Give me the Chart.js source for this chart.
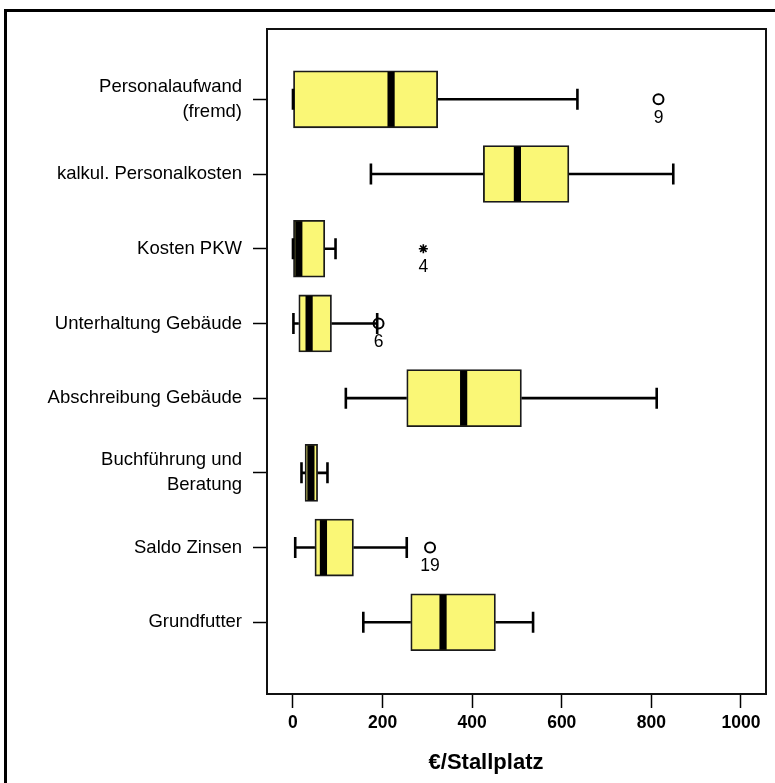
<!DOCTYPE html>
<html><head><meta charset="utf-8">
<script src="https://cdn.jsdelivr.net/npm/chart.js@4/dist/chart.umd.min.js"></script>
<style>
html,body{margin:0;padding:0;background:#fff;overflow:hidden;}
#wrap{position:relative;width:775px;height:783px;overflow:hidden;}
#frame{position:absolute;left:4px;top:9px;width:900px;height:900px;border:3px solid #000;box-sizing:border-box;pointer-events:none;}
canvas{position:absolute;left:0;top:0;}
</style></head><body>
<div id="wrap"><canvas id="c" width="775" height="783"></canvas><div id="frame"></div></div>
<script>
// ---- data ----
const categories = [["Personalaufwand","(fremd)"],"kalkul. Personalkosten","Kosten PKW","Unterhaltung Gebäude","Abschreibung Gebäude",["Buchführung und","Beratung"],"Saldo Zinsen","Grundfutter"];
const minimums = [0, 174, 0, 1, 118, 19, 5, 157];
const lowerQuartiles = [0, 425, 0, 13, 254, 27, 49, 263];
const medians = [219, 501, 13, 36, 381, 40, 68, 335];
const upperQuartiles = [323, 616, 71, 86, 510, 55, 135, 452];
const maximums = [635, 849, 95, 188, 812, 77, 254, 536];
const outlierCategory = [0, 2, 3, 6];
const outlierValues = [816, 291, 191, 306];
const outlierLabels = ["9", "4", "6", "19"];
const outlierExtreme = [false, true, false, false];
const xTickValues = [0, 200, 400, 600, 800, 1000];
const xTickLabels = ["0", "200", "400", "600", "800", "1000"];
const xTitle = "€/Stallplatz";

Chart.defaults.font.family = '"Liberation Sans", Arial, sans-serif';
Chart.defaults.color = '#000';

const positions = categories.map((_, i) => i + 1);
const boxData = positions.map((p, i) => ({ y: p, x: [lowerQuartiles[i], upperQuartiles[i]] }));
const outlierData = outlierCategory.map((c, i) => ({ x: outlierValues[i], y: c + 1 }));

const boxExtras = {
  id: 'boxExtras',
  afterDatasetsDraw(chart) {
    const { ctx, scales: { x, y }, chartArea } = chart;
    ctx.save();
    ctx.strokeStyle = '#000';
    ctx.lineWidth = 2.6;
    positions.forEach((p, i) => {
      const yc = y.getPixelForValue(p);
      const xMin = x.getPixelForValue(minimums[i]);
      const xQ1 = x.getPixelForValue(lowerQuartiles[i]);
      const xQ3 = x.getPixelForValue(upperQuartiles[i]);
      const xMax = x.getPixelForValue(maximums[i]);
      ctx.beginPath();
      ctx.moveTo(xMin, yc); ctx.lineTo(xQ1, yc);
      ctx.moveTo(xQ3, yc); ctx.lineTo(xMax, yc);
      ctx.moveTo(xMin, yc - 10.5); ctx.lineTo(xMin, yc + 10.5);
      ctx.moveTo(xMax, yc - 10.5); ctx.lineTo(xMax, yc + 10.5);
      ctx.stroke();
      const xm = x.getPixelForValue(medians[i]);
      ctx.fillStyle = '#000';
      ctx.fillRect(xm - 3.6, yc - 27.5, 7.2, 55);
    });
    ctx.fillStyle = '#000';
    ctx.font = '17.5px "Liberation Sans", Arial, sans-serif';
    ctx.textAlign = 'center';
    ctx.textBaseline = 'middle';
    outlierLabels.forEach((t, i) => {
      ctx.fillText(t, x.getPixelForValue(outlierValues[i]), y.getPixelForValue(outlierCategory[i] + 1) + 18.5);
    });
    ctx.lineWidth = 2;
    ctx.strokeStyle = '#111';
    ctx.strokeRect(chartArea.left, chartArea.top, chartArea.right - chartArea.left, chartArea.bottom - chartArea.top);
    ctx.fillStyle = '#000';
    ctx.font = 'bold 22px "Liberation Sans", Arial, sans-serif';
    ctx.fillText(xTitle, 486, 763);
    ctx.restore();
  }
};

new Chart(document.getElementById('c'), {
  type: 'bar',
  data: {
    datasets: [
      {
        type: 'bar',
        data: boxData,
        backgroundColor: '#faf776',
        borderColor: '#1a1a1a',
        borderWidth: 1.8,
        borderSkipped: false,
        barThickness: 57,
        xAxisID: 'x', yAxisID: 'y'
      },
      {
        type: 'scatter',
        data: outlierData,
        pointStyle: outlierExtreme.map(e => e ? 'star' : 'circle'),
        pointRadius: outlierExtreme.map(e => e ? 4.5 : 5),
        borderColor: '#000',
        borderWidth: outlierExtreme.map(e => e ? 1.6 : 2),
        backgroundColor: 'rgba(0,0,0,0)',
        showLine: false,
        xAxisID: 'x', yAxisID: 'y'
      }
    ]
  },
  options: {
    indexAxis: 'y',
    responsive: false,
    devicePixelRatio: 1,
    animation: false,
    layout: { padding: { top: 29, right: 9, left: 0, bottom: 0 } },
    plugins: { legend: { display: false }, tooltip: { enabled: false } },
    scales: {
      x: {
        type: 'linear', position: 'bottom', min: -58, max: 1056, offset: false,
        afterBuildTicks: s => { s.ticks = xTickValues.map(v => ({ value: v })); },
        afterFit: s => { s.height = 89; },
        grid: { display: true, offset: false, drawOnChartArea: false, drawTicks: true, tickLength: 14, tickWidth: 1.5, tickColor: '#000' },
        border: { display: false },
        ticks: { callback: (v, i) => xTickLabels[i], font: { size: 17.5, weight: 'bold' }, color: '#000', padding: 5, maxRotation: 0, autoSkip: false }
      },
      y: {
        type: 'linear', position: 'left', reverse: true, min: 0.059, max: 8.96, offset: false,
        afterBuildTicks: s => { s.ticks = positions.map(v => ({ value: v })); },
        afterFit: s => { s.width = 267; },
        grid: { display: true, offset: false, drawOnChartArea: false, drawTicks: true, tickLength: 14, tickWidth: 1.5, tickColor: '#000' },
        border: { display: false },
        ticks: { callback: (v, i) => categories[i], font: { size: 18.5, lineHeight: 1.35 }, color: '#000', padding: 11, autoSkip: false }
      }
    }
  },
  plugins: [boxExtras]
});
</script>
</body></html>
